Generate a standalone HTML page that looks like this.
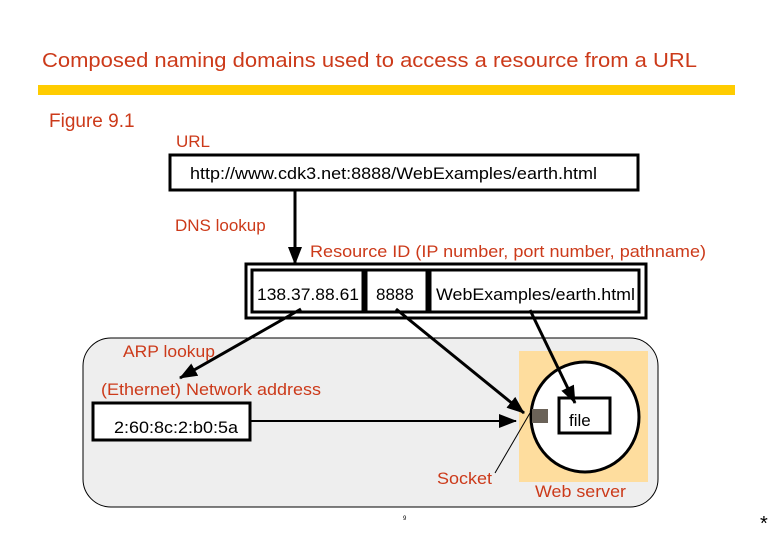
<!DOCTYPE html>
<html><head><meta charset="utf-8"><style>
html,body{margin:0;padding:0;background:#fff;}
svg{display:block;font-family:"Liberation Sans",Arial,sans-serif;}
.r{fill:#cc3a1a;}
.k{fill:#000;}
</style></head><body>
<svg width="780" height="540" viewBox="0 0 780 540" xmlns="http://www.w3.org/2000/svg">
<defs>
<marker id="b" markerWidth="18" markerHeight="14" refX="17" refY="7" orient="auto" markerUnits="userSpaceOnUse" viewBox="0 0 18 14">
<path d="M0,0 L18,7 L0,14 z" fill="#000"/></marker>
</defs>
<text x="42" y="67" font-size="20" class="r" textLength="655" lengthAdjust="spacingAndGlyphs">Composed naming domains used to access a resource from a URL</text>
<rect x="38" y="85" width="697" height="10" fill="#ffcc00"/>
<text x="49" y="127" font-size="19" class="r">Figure 9.1</text>
<text x="176" y="147" font-size="17" class="r">URL</text>
<rect x="170" y="155" width="468" height="35" fill="#fff" stroke="#000" stroke-width="3"/>
<text x="190" y="179" font-size="17" class="k" textLength="407" lengthAdjust="spacingAndGlyphs">http://www.cdk3.net:8888/WebExamples/earth.html</text>
<line x1="295" y1="190" x2="295" y2="264" stroke="#000" stroke-width="3" marker-end="url(#b)"/>
<text x="175" y="231" font-size="17" class="r">DNS lookup</text>
<text x="310" y="257" font-size="17" class="r" textLength="396" lengthAdjust="spacingAndGlyphs">Resource ID (IP number, port number, pathname)</text>
<rect x="246" y="264" width="400" height="54" fill="#fff" stroke="#000" stroke-width="3"/>
<rect x="252" y="270" width="111" height="42" fill="#fff" stroke="#000" stroke-width="3"/>
<rect x="366" y="270" width="61" height="42" fill="#fff" stroke="#000" stroke-width="3"/>
<rect x="430" y="270" width="209" height="42" fill="#fff" stroke="#000" stroke-width="3"/>
<text x="257" y="300" font-size="17" class="k" textLength="102" lengthAdjust="spacingAndGlyphs">138.37.88.61</text>
<text x="376" y="300" font-size="17" class="k">8888</text>
<text x="436" y="300" font-size="17" class="k" textLength="199" lengthAdjust="spacingAndGlyphs">WebExamples/earth.html</text>
<rect x="83" y="338" width="575" height="169" rx="28" ry="28" fill="#eeeeee" stroke="#000" stroke-width="1"/>
<rect x="519" y="351" width="129" height="131" fill="#fedd9e"/>
<ellipse cx="585" cy="417" rx="54" ry="55" fill="#fff" stroke="#000" stroke-width="3"/>
<rect x="559" y="398" width="51" height="35" fill="#fff" stroke="#000" stroke-width="3"/>
<text x="569" y="426" font-size="17" class="k">file</text>
<rect x="532" y="409" width="16" height="14" fill="#6a6258"/>
<rect x="93" y="403" width="157" height="37" fill="#fff" stroke="#000" stroke-width="3"/>
<text x="114" y="433" font-size="17" class="k" textLength="124" lengthAdjust="spacingAndGlyphs">2:60:8c:2:b0:5a</text>
<text x="123" y="357" font-size="17" class="r" textLength="92" lengthAdjust="spacingAndGlyphs">ARP lookup</text>
<text x="101" y="395" font-size="17" class="r" textLength="220" lengthAdjust="spacingAndGlyphs">(Ethernet) Network address</text>
<line x1="250" y1="421" x2="516" y2="421" stroke="#000" stroke-width="2" marker-end="url(#b)"/>
<line x1="301" y1="309" x2="180" y2="378" stroke="#000" stroke-width="3" marker-end="url(#b)"/>
<line x1="396" y1="309" x2="524" y2="413" stroke="#000" stroke-width="3" marker-end="url(#b)"/>
<line x1="530" y1="310" x2="575" y2="403" stroke="#000" stroke-width="3" marker-end="url(#b)"/>
<line x1="495" y1="473" x2="530" y2="413" stroke="#000" stroke-width="1"/>
<text x="437" y="484" font-size="17" class="r" textLength="55" lengthAdjust="spacingAndGlyphs">Socket</text>
<text x="535" y="497" font-size="17" class="r" textLength="91" lengthAdjust="spacingAndGlyphs">Web server</text>
<text x="403" y="520" font-size="6" class="k">9</text>
<text x="760" y="530" font-size="20" class="k">*</text>
</svg>
</body></html>
